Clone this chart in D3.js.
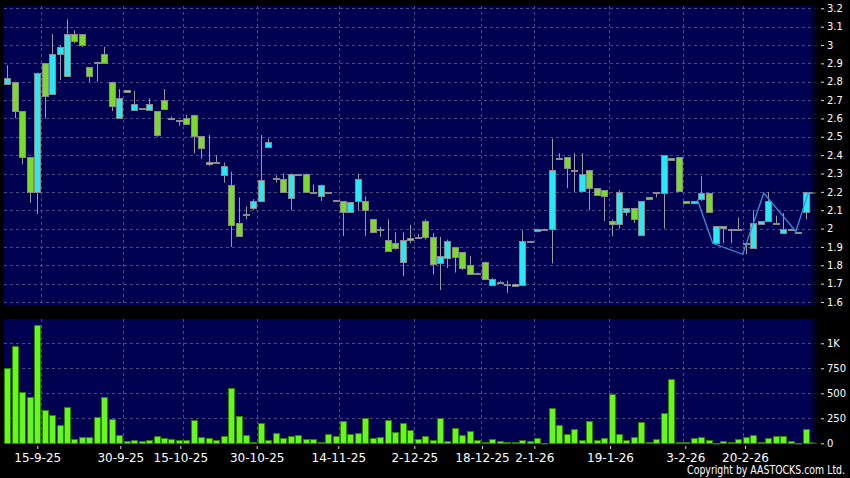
<!DOCTYPE html>
<html><head><meta charset="utf-8">
<script src="https://cdn.jsdelivr.net/npm/d3@7"></script>
<style>html,body{margin:0;padding:0;background:#000;} svg{display:block}</style>
</head><body><svg id="c" width="850" height="478"></svg>
<script>
// ---- data ----
const open  = [2.79,2.80,2.64,2.39,2.20,2.90,2.73,2.95,2.83,3.06, 3.06,2.88,2.905,2.95,2.80,2.60,2.745,2.65,2.655,2.65, 2.64,2.70,2.60,2.59,2.60,2.62,2.505,2.35,2.36,2.29, 2.24,2.03,2.08,2.11,2.15,2.445,2.275,2.27,2.17,2.295, 2.30,2.20,2.18,2.20,2.155,2.15,2.09,2.15,2.15,2.05, 2.00,1.94,1.92,1.82,1.94,1.955,2.04,1.955,1.81,1.835, 1.90,1.87,1.80,1.753,1.82,1.69,1.71,1.70,1.69,1.69, 1.93,1.99,1.995,2.00,2.385,2.39,2.313,2.21,2.32,2.22, 2.21,2.04,2.025,2.09,2.113,1.965,2.17,2.20,2.195,2.385, 2.39,2.15,2.14,2.16,2.195,1.92,2.00,2.00,2.00,1.92, 1.895,2.025,2.04,2.03,1.98,1.995,1.98,2.09,2.20];
const high  = [2.89,2.80,2.64,2.39,2.85,2.90,3.06,3.00,3.14,3.08, 3.06,2.88,2.91,2.99,2.80,2.76,2.755,2.75,2.655,2.71, 2.64,2.76,2.61,2.59,2.62,2.62,2.505,2.51,2.40,2.36, 2.31,2.17,2.12,2.16,2.51,2.49,2.29,2.30,2.30,2.295, 2.30,2.24,2.24,2.20,2.155,2.15,2.145,2.30,2.175,2.05, 2.01,2.05,1.98,1.98,2.02,1.97,2.05,1.975,1.955,1.94, 1.90,1.87,1.85,1.76,1.82,1.73,1.715,1.715,1.70,1.99, 1.93,2.00,2.00,2.49,2.41,2.39,2.41,2.41,2.32,2.22, 2.21,2.05,2.21,2.113,2.113,2.15,2.17,2.20,2.40,2.385, 2.39,2.15,2.15,2.285,2.195,2.013,2.013,2.00,2.06,1.92, 2.10,2.04,2.20,2.07,2.085,2.00,1.98,2.20,2.20];
const low   = [2.79,2.60,2.35,2.14,2.08,2.60,2.73,2.81,2.83,3.01, 2.99,2.80,2.80,2.90,2.64,2.60,2.745,2.65,2.655,2.65, 2.50,2.65,2.59,2.56,2.565,2.41,2.38,2.34,2.36,2.25, 1.90,1.96,2.05,2.10,2.15,2.445,2.25,2.20,2.10,2.295, 2.20,2.20,2.15,2.20,2.155,1.96,2.09,2.10,1.96,1.975, 1.955,1.88,1.885,1.74,1.92,1.95,1.94,1.75,1.665,1.785, 1.76,1.775,1.753,1.753,1.73,1.69,1.705,1.65,1.69,1.69, 1.93,1.98,1.995,1.81,2.385,2.22,2.20,2.21,2.10,2.18, 2.04,1.96,2.00,2.07,2.03,1.965,2.16,2.17,2.00,2.375, 2.205,2.14,2.14,2.15,2.09,1.92,1.92,1.92,1.995,1.86, 1.895,2.025,2.04,2.03,1.98,1.995,1.98,2.05,2.20];
const close = [2.82,2.64,2.39,2.20,2.85,2.72,2.95,2.99,3.06,3.02, 3.00,2.83,2.91,2.90,2.67,2.71,2.755,2.68,2.655,2.68, 2.51,2.65,2.60,2.59,2.565,2.505,2.44,2.36,2.36,2.34, 2.02,1.96,2.08,2.15,2.265,2.47,2.275,2.20,2.30,2.295, 2.20,2.20,2.24,2.20,2.155,2.09,2.145,2.27,2.10,1.98, 2.00,1.88,1.895,1.94,1.95,1.955,1.955,1.81,1.85,1.93, 1.845,1.785,1.753,1.76,1.73,1.725,1.71,1.70,1.70,1.93, 1.93,2.00,2.00,2.32,2.385,2.33,2.32,2.30,2.22,2.18, 2.18,2.025,2.20,2.113,2.053,2.15,2.16,2.195,2.40,2.375, 2.205,2.14,2.15,2.195,2.09,2.013,2.013,1.995,1.995,1.92, 2.03,2.04,2.15,2.03,2.00,2.00,1.98,2.20,2.20];
const volume = [750,973,510,463,1183,333,280,183,367,43, 60,67,267,467,240,80,20,30,20,33, 77,53,43,37,33,230,60,53,30,73, 550,277,83,13,200,30,100,50,77,80, 40,43,17,93,73,223,93,103,253,57, 67,233,113,200,133,40,73,33,253,20, 153,87,127,37,10,40,23,13,10,33, 20,53,7,357,183,90,140,33,223,33, 53,490,90,33,67,213,10,47,303,647, 13,17,50,67,33,3,23,17,43,60, 80,13,53,70,73,27,3,143,10];

const dateLabels = ["15-9-25","30-9-25","15-10-25","30-10-25","14-11-25","2-12-25","18-12-25","2-1-26","19-1-26","3-2-26","20-2-26"];
const dateTickPos = [4.02,15.15,23.19,33.43,44.37,54.56,63.63,70.64,80.79,90.88,98.89];
const dateGridPos = [4.56,15.55,23.59,33.51,44.5,54.54,63.56,70.54,80.59,90.54,98.55];
const priceTicks = [1.6,1.7,1.8,1.9,2.0,2.1,2.2,2.3,2.4,2.5,2.6,2.7,2.8,2.9,3.0,3.1,3.2];
const priceTickLabels = ["1.6","1.7","1.8","1.9","2","2.1","2.2","2.3","2.4","2.5","2.6","2.7","2.8","2.9","3","3.1","3.2"];
const volTicks = [0,250,500,750,1000];
const volTickLabels = ["0","250","500","750","1K"];
const trendIdx = [92.5,94.56,98.58,101.4,105.7,107.4];
const trendVal = [2.157,1.92,1.86,2.193,1.984,2.20];

// ---- drawing ----
const svg = d3.select("#c");
const n = close.length;
const L = 4, R = 817;
const x = d3.scaleLinear().domain([0, 108]).range([7.3, 813.0]);
const yP = d3.scaleLinear().domain([1.6, 3.2]).range([302, 8.3]);
const yV = d3.scaleLinear().domain([0, 1000]).range([443.3, 343.3]);
const navy = "#000050", gridC = "#4a4a86";
const cyan = "#2ae8f2", green = "#78dc28", flat = "#9a9a9a";

svg.append("rect").attr("width",850).attr("height",478).attr("fill","#000");
const defs = svg.append("defs");
const g1 = defs.append("linearGradient").attr("id","fade").attr("x1","0").attr("x2","1");
g1.append("stop").attr("offset","0").attr("stop-color","#000").attr("stop-opacity",0);
g1.append("stop").attr("offset","1").attr("stop-color","#000").attr("stop-opacity",1);

// panels
svg.append("rect").attr("x",L).attr("y",6).attr("width",R-L).attr("height",299).attr("fill",navy);
svg.append("rect").attr("x",L).attr("y",319).attr("width",R-L).attr("height",124.5).attr("fill",navy);

// price grid
const gp = svg.append("g");
gp.selectAll("line.h").data(priceTicks).join("line")
  .attr("x1",L).attr("x2",R).attr("y1",d=>Math.round(yP(d))+0.5).attr("y2",d=>Math.round(yP(d))+0.5)
  .attr("stroke",gridC).attr("stroke-dasharray","3,3");
gp.selectAll("line.v").data(dateGridPos).join("line")
  .attr("x1",d=>Math.round(x(d))+0.5).attr("x2",d=>Math.round(x(d))+0.5).attr("y1",6).attr("y2",305)
  .attr("stroke",gridC).attr("stroke-dasharray","3,3");
// volume grid
const gv = svg.append("g");
gv.selectAll("line.h").data(volTicks.filter(d=>d>0)).join("line")
  .attr("x1",L).attr("x2",R).attr("y1",d=>Math.round(yV(d))+0.5).attr("y2",d=>Math.round(yV(d))+0.5)
  .attr("stroke",gridC).attr("stroke-dasharray","3,3");
gv.selectAll("line.v").data(dateGridPos).join("line")
  .attr("x1",d=>Math.round(x(d))+0.5).attr("x2",d=>Math.round(x(d))+0.5).attr("y1",319).attr("y2",443)
  .attr("stroke",gridC).attr("stroke-dasharray","3,3");

// candles
const idx = d3.range(n);
const cg = svg.append("g");
cg.selectAll("line.w").data(idx).join("line")
  .attr("x1",i=>Math.round(x(i))+0.5).attr("x2",i=>Math.round(x(i))+0.5)
  .attr("y1",i=>yP(high[i])).attr("y2",i=>yP(low[i]))
  .attr("stroke","#9c9c9c").attr("stroke-width",1);
cg.selectAll("rect").data(idx).join("rect")
  .attr("x",i=>Math.round(x(i))-2.5).attr("width",6)
  .attr("y",i=>Math.round(yP(Math.max(open[i],close[i])))+0.5)
  .attr("height",i=>Math.max(1, Math.round(Math.abs(yP(open[i])-yP(close[i])))))
  .attr("fill",i=>close[i]>open[i]?cyan:(close[i]<open[i]?green:flat))
  .attr("stroke","#8a8a8a").attr("stroke-width",1);

// trend line
svg.append("path")
  .datum(d3.range(trendIdx.length))
  .attr("d", d3.line().x(k=>x(trendIdx[k])).y(k=>yP(trendVal[k])))
  .attr("fill","none").attr("stroke","#3a8fdc").attr("stroke-width",1.3);

// volume bars
svg.append("g").selectAll("rect").data(idx).join("rect")
  .attr("x",i=>Math.round(x(i))-2.5).attr("width",6)
  .attr("y",i=>Math.round(yV(volume[i]))+0.5)
  .attr("height",i=>Math.max(0.5, Math.round(yV(0)) - Math.round(yV(volume[i]))))
  .attr("fill","#66f71e").attr("stroke","#2f8200").attr("stroke-width",1);

// right edge fade
svg.append("rect").attr("x",810).attr("y",6).attr("width",8).attr("height",299).attr("fill","url(#fade)");
svg.append("rect").attr("x",810).attr("y",319).attr("width",8).attr("height",124.5).attr("fill","url(#fade)");

// axes
const styleAxis = (g, size) => {
  g.select(".domain").remove();
  g.selectAll(".tick line").attr("stroke","#dddddd");
  g.selectAll(".tick text").attr("fill","#ffffff").style("font-family","'DejaVu Sans', sans-serif").style("font-size",size);
};
svg.append("g").attr("transform","translate(821,0)")
  .call(d3.axisRight(yP).tickValues(priceTicks).tickSize(3).tickPadding(3).tickFormat((d,i)=>priceTickLabels[i]))
  .call(g=>styleAxis(g,"10px"));
svg.append("g").attr("transform","translate(821,0)")
  .call(d3.axisRight(yV).tickValues(volTicks).tickSize(3).tickPadding(3).tickFormat((d,i)=>volTickLabels[i]))
  .call(g=>styleAxis(g,"10px"));
svg.append("g").attr("transform","translate(0,446)")
  .call(d3.axisBottom(x).tickValues(dateTickPos).tickSize(3).tickPadding(4).tickFormat((d,i)=>dateLabels[i]))
  .call(g=>styleAxis(g,"12px"));

// copyright: narrow font, scaled horizontally to the reference width
const cpG = svg.append("g");
const cp = cpG.append("text").attr("x",0).attr("y",0).attr("text-anchor","end")
  .attr("fill","#fff").style("font-family","'Liberation Sans Narrow', 'DejaVu Sans Condensed', 'Liberation Sans', sans-serif")
  .style("font-size","12px")
  .text("Copyright by AASTOCKS.com Ltd.");
const w = cp.node().getComputedTextLength();
const sx = Math.min(1, 158 / w);
cpG.attr("transform", `translate(845,473.5) scale(${sx},1)`);
</script></body></html>
